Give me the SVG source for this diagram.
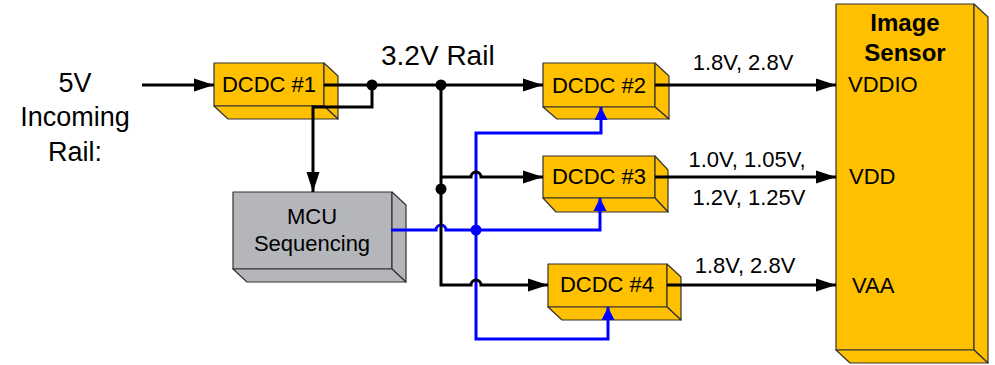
<svg xmlns="http://www.w3.org/2000/svg" width="995" height="365" viewBox="0 0 995 365">
<defs>
<style>
text{font-family:"Liberation Sans",Arial,sans-serif;fill:#000}
.box{fill:#FFC000;stroke:#333;stroke-width:1.2;stroke-linejoin:round}
.gray{fill:#B4B6BA;stroke:#333;stroke-width:1.2;stroke-linejoin:round}
.w{fill:none;stroke:#000;stroke-width:3}
.b{fill:none;stroke:#0000FF;stroke-width:3}
.lbl{font-size:22px}
.big{font-size:27px}
</style>
<marker id="ak" markerUnits="userSpaceOnUse" markerWidth="21" markerHeight="14" refX="20" refY="7" orient="auto"><path d="M0,0.5 L20,7 L0,13.5 z" fill="#000"/></marker>
<marker id="ab" markerUnits="userSpaceOnUse" markerWidth="14" markerHeight="14" refX="13" refY="7" orient="auto"><path d="M0,0.5 L13,7 L0,13.5 z" fill="#0000FF"/></marker>
</defs>
<rect width="995" height="365" fill="#fff"/>

<g id="input-label">
<text class="big" x="75" y="92" text-anchor="middle">5V</text>
<text class="big" x="75" y="126" text-anchor="middle">Incoming</text>
<text class="big" x="75" y="161" text-anchor="middle">Rail:</text>
</g>
<g id="rail-label"><text x="381" y="65" font-size="28">3.2V Rail</text></g>

<g id="dcdc1">
<rect class="box" x="214" y="63" width="110" height="43"/>
<polygon class="box" points="324,63 338,76 338,119 324,106"/>
<polygon class="box" points="214,106 324,106 338,119 228,119"/>
<text class="lbl" x="269" y="92" text-anchor="middle">DCDC #1</text>
</g>
<g id="dcdc2">
<rect class="box" x="543" y="63" width="112" height="44"/>
<polygon class="box" points="655,63 669,76 669,119 655,107"/>
<polygon class="box" points="543,107 655,107 669,119 557,119"/>
<text class="lbl" x="599" y="93" text-anchor="middle">DCDC #2</text>
</g>
<g id="dcdc3">
<rect class="box" x="543" y="156" width="112" height="42"/>
<polygon class="box" points="655,156 668,170 668,212 655,198"/>
<polygon class="box" points="543,198 655,198 668,212 556,212"/>
<text class="lbl" x="599" y="184" text-anchor="middle">DCDC #3</text>
</g>
<g id="dcdc4">
<rect class="box" x="548" y="264" width="119" height="43"/>
<polygon class="box" points="667,264 681,277 681,320 667,307"/>
<polygon class="box" points="548,307 667,307 681,320 562,320"/>
<text class="lbl" x="607" y="292" text-anchor="middle">DCDC #4</text>
</g>
<g id="mcu">
<rect class="gray" x="233" y="192" width="159" height="77"/>
<polygon class="gray" points="392,192 406,205 406,282 392,269"/>
<polygon class="gray" points="233,269 392,269 406,282 247,282"/>
<text class="lbl" x="312" y="224" text-anchor="middle">MCU</text>
<text class="lbl" x="312" y="251" text-anchor="middle">Sequencing</text>
</g>
<g id="sensor">
<rect class="box" x="836" y="4" width="138" height="346"/>
<polygon class="box" points="974,4 988,17 988,363 974,350"/>
<polygon class="box" points="836,350 974,350 988,363 850,363"/>
<text x="905" y="31" text-anchor="middle" font-size="24" font-weight="bold">Image</text>
<text x="905" y="61" text-anchor="middle" font-size="24" font-weight="bold">Sensor</text>
<text class="lbl" x="848" y="92">VDDIO</text>
<text class="lbl" x="849" y="184">VDD</text>
<text class="lbl" x="852" y="293">VAA</text>
</g>

<g id="connectors">
<path class="b" d="M476,230 V133 H601 V107" marker-end="url(#ab)"/>
<path class="b" d="M476,230 V339 H608 V307" marker-end="url(#ab)"/>
<path class="b" d="M391,230 H436 a5,5 0 0 1 10,0 H600 V198" marker-end="url(#ab)"/>
<circle cx="476" cy="230" r="5.5" fill="#0000FF"/>

<path class="w" d="M142,85 H214" marker-end="url(#ak)"/>
<path class="w" d="M324,85 H543" marker-end="url(#ak)"/>
<path class="w" d="M372,85 V107 H313 V192" marker-end="url(#ak)"/>
<path class="w" d="M441,85 V285 H471 a5,5 0 0 1 10,0 H548" marker-end="url(#ak)"/>
<path class="w" d="M441,177 H471 a5,5 0 0 1 10,0 H543" marker-end="url(#ak)"/>
<circle cx="372" cy="85" r="5.5"/>
<circle cx="441" cy="85" r="5.5"/>
<circle cx="441" cy="189" r="5.5"/>

<path class="w" d="M655,85 H836" marker-end="url(#ak)"/>
<path class="w" d="M655,177 H836" marker-end="url(#ak)"/>
<path class="w" d="M667,285 H836" marker-end="url(#ak)"/>
<text class="lbl" x="743" y="70" text-anchor="middle">1.8V, 2.8V</text>
<text class="lbl" x="747" y="167" text-anchor="middle">1.0V, 1.05V,</text>
<text class="lbl" x="749" y="205" text-anchor="middle">1.2V, 1.25V</text>
<text class="lbl" x="745" y="273" text-anchor="middle">1.8V, 2.8V</text>
</g>
</svg>
